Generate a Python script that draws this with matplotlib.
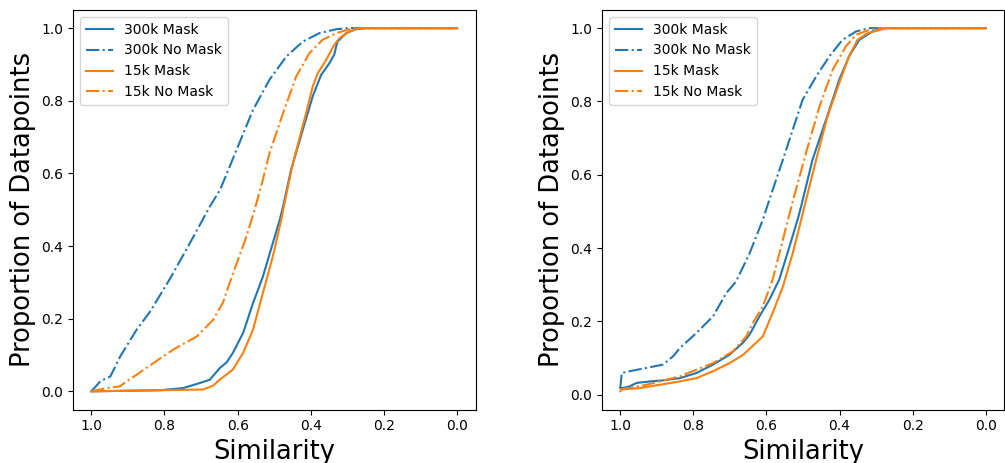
import matplotlib
matplotlib.use("Agg")
import matplotlib.pyplot as plt

labels = ["300k Mask", "300k No Mask", "15k Mask", "15k No Mask"]
colors = ["tab:blue", "tab:blue", "tab:orange", "tab:orange"]
styles = ["-", "-.", "-", "-."]

# Left panel
L_300k_mask_x = [1.0, 0.812, 0.749, 0.703, 0.676, 0.665, 0.649, 0.630, 0.613, 0.585, 0.558, 0.531,
                 0.504, 0.485, 0.476, 0.454, 0.422, 0.395, 0.372, 0.349, 0.336, 0.331, 0.327,
                 0.304, 0.277, 0.25, 0.0]
L_300k_mask_y = [0.0, 0.003, 0.009, 0.023, 0.032, 0.045, 0.064, 0.080, 0.106, 0.161, 0.243, 0.316,
                 0.408, 0.472, 0.509, 0.610, 0.720, 0.812, 0.871, 0.904, 0.927, 0.949, 0.963,
                 0.986, 0.997, 1.0, 1.0]
L_300k_nomask_x = [1.0, 0.975, 0.948, 0.921, 0.876, 0.839, 0.785, 0.735, 0.676, 0.648, 0.603, 0.558,
                   0.513, 0.467, 0.422, 0.377, 0.331, 0.30, 0.0]
L_300k_nomask_y = [0.0, 0.028, 0.041, 0.096, 0.170, 0.220, 0.310, 0.400, 0.509, 0.555, 0.665, 0.775,
                   0.858, 0.922, 0.963, 0.986, 0.997, 1.0, 1.0]
L_15k_mask_x = [1.0, 0.694, 0.667, 0.649, 0.613, 0.585, 0.558, 0.531, 0.504, 0.481, 0.472, 0.449,
                0.413, 0.395, 0.381, 0.358, 0.336, 0.322, 0.295, 0.268, 0.0]
L_15k_mask_y = [0.0, 0.005, 0.016, 0.032, 0.060, 0.106, 0.170, 0.271, 0.371, 0.472, 0.518, 0.628,
                0.766, 0.839, 0.876, 0.913, 0.954, 0.972, 0.991, 1.0, 1.0]
L_15k_nomask_x = [1.0, 0.957, 0.921, 0.903, 0.876, 0.830, 0.776, 0.712, 0.667, 0.640, 0.622, 0.600,
                  0.580, 0.555, 0.531, 0.513, 0.476, 0.440, 0.404, 0.368, 0.331, 0.295, 0.27, 0.0]
L_15k_nomask_y = [0.0, 0.009, 0.014, 0.028, 0.046, 0.078, 0.115, 0.151, 0.197, 0.245, 0.298, 0.360,
                  0.415, 0.495, 0.583, 0.656, 0.766, 0.867, 0.931, 0.968, 0.986, 0.997, 1.0, 1.0]

# Right panel
R_300k_mask_x = [1.0, 0.992, 0.974, 0.955, 0.919, 0.883, 0.837, 0.792, 0.746, 0.701, 0.665, 0.646,
                 0.619, 0.592, 0.565, 0.537, 0.515, 0.505, 0.474, 0.437, 0.401, 0.374, 0.346,
                 0.310, 0.274, 0.0]
R_300k_mask_y = [0.018, 0.018, 0.023, 0.032, 0.036, 0.039, 0.045, 0.059, 0.082, 0.109, 0.141, 0.164,
                 0.214, 0.259, 0.314, 0.404, 0.477, 0.514, 0.641, 0.750, 0.859, 0.923, 0.968,
                 0.991, 1.0, 1.0]
R_300k_nomask_x = [1.0, 0.996, 0.974, 0.928, 0.883, 0.855, 0.837, 0.792, 0.746, 0.710, 0.683, 0.646,
                   0.610, 0.592, 0.555, 0.501, 0.464, 0.428, 0.392, 0.355, 0.319, 0.0]
R_300k_nomask_y = [0.018, 0.059, 0.064, 0.073, 0.082, 0.105, 0.127, 0.168, 0.214, 0.277, 0.309, 0.386,
                   0.477, 0.532, 0.641, 0.805, 0.868, 0.923, 0.968, 0.991, 1.0, 1.0]
R_15k_mask_x = [1.0, 0.996, 0.946, 0.892, 0.837, 0.792, 0.746, 0.701, 0.665, 0.646, 0.610, 0.583,
                0.555, 0.528, 0.505, 0.496, 0.464, 0.433, 0.401, 0.374, 0.351, 0.324, 0.283,
                0.27, 0.0]
R_15k_mask_y = [0.009, 0.014, 0.018, 0.027, 0.036, 0.045, 0.064, 0.086, 0.108, 0.125, 0.159, 0.223,
                0.295, 0.386, 0.477, 0.514, 0.641, 0.759, 0.850, 0.923, 0.968, 0.986, 0.997,
                1.0, 1.0]
R_15k_nomask_x = [1.0, 0.928, 0.837, 0.792, 0.746, 0.692, 0.655, 0.637, 0.610, 0.583, 0.555, 0.530,
                  0.492, 0.455, 0.419, 0.383, 0.355, 0.319, 0.29, 0.0]
R_15k_nomask_y = [0.014, 0.027, 0.050, 0.068, 0.086, 0.118, 0.159, 0.196, 0.241, 0.314, 0.423, 0.520,
                  0.659, 0.786, 0.886, 0.950, 0.982, 0.995, 1.0, 1.0]

left_series = [(L_300k_mask_x, L_300k_mask_y), (L_300k_nomask_x, L_300k_nomask_y),
               (L_15k_mask_x, L_15k_mask_y), (L_15k_nomask_x, L_15k_nomask_y)]
right_series = [(R_300k_mask_x, R_300k_mask_y), (R_300k_nomask_x, R_300k_nomask_y),
                (R_15k_mask_x, R_15k_mask_y), (R_15k_nomask_x, R_15k_nomask_y)]

fig = plt.figure(figsize=(10.05, 4.63), dpi=100)
ax1 = fig.add_axes([73 / 1005, 1 - 409.5 / 463, 402.5 / 1005, 399.5 / 463])
ax2 = fig.add_axes([602 / 1005, 1 - 409.5 / 463, 402 / 1005, 399.5 / 463])

for ax, series in ((ax1, left_series), (ax2, right_series)):
    for (x, y), lab, c, ls in zip(series, labels, colors, styles):
        ax.plot(x, y, color=c, linestyle=ls, label=lab, linewidth=1.5)
    ax.invert_xaxis()
    ax.set_xticks([1.0, 0.8, 0.6, 0.4, 0.2, 0.0])
    ax.set_yticks([0.0, 0.2, 0.4, 0.6, 0.8, 1.0])
    ax.set_xlabel("Similarity", fontsize=18.5)
    ax.set_ylabel("Proportion of Datapoints", fontsize=18.5)
    ax.legend(loc="upper left", fontsize=10)

fig.savefig("out.png", dpi=100)
